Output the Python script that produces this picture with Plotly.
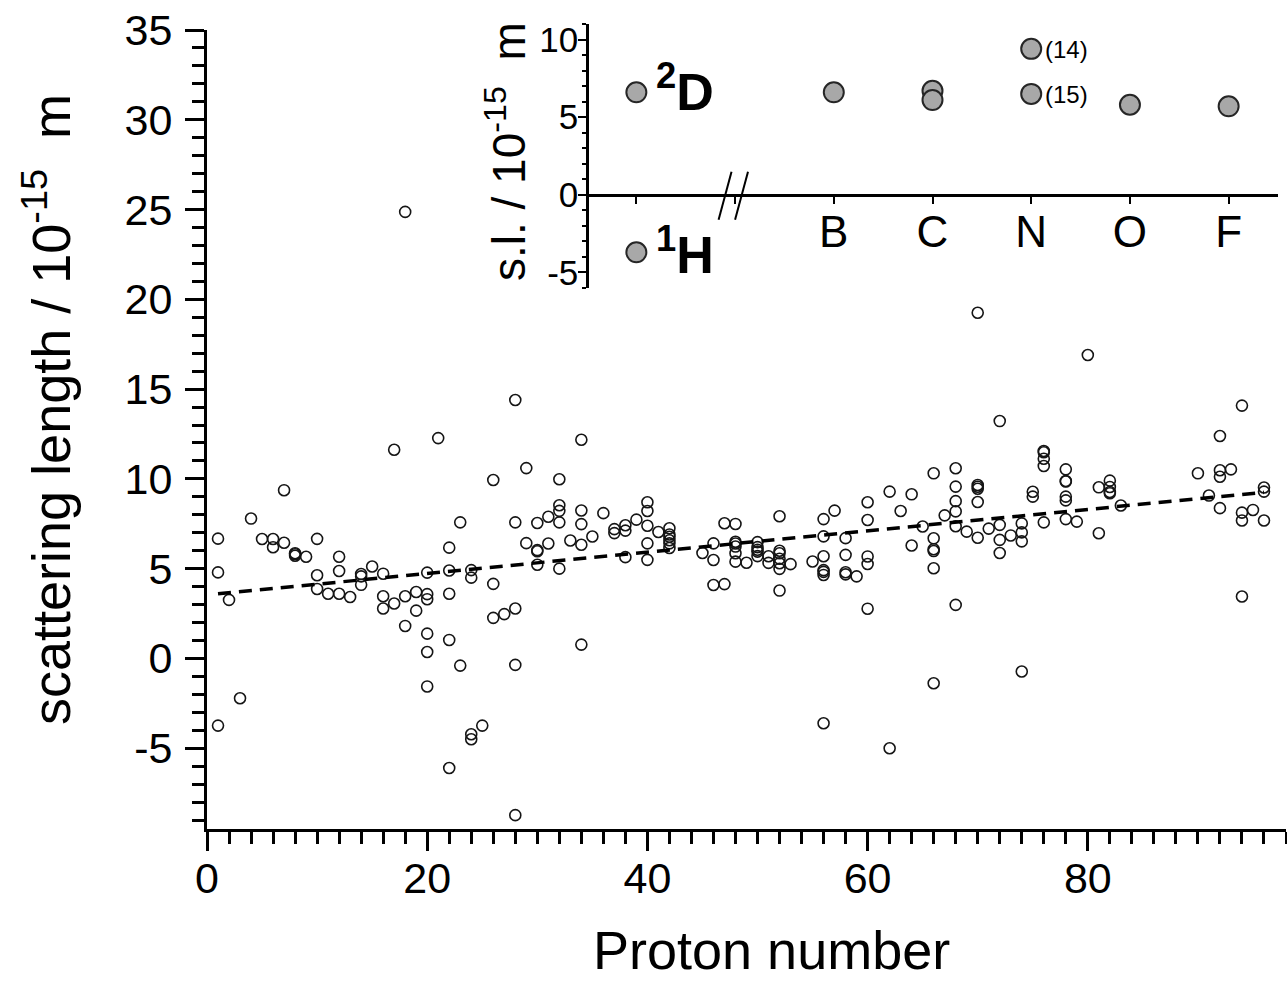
import plotly.graph_objects as go

FONT = "Liberation Sans, Arial, Helvetica, sans-serif"

# ---- main panel: coherent scattering length (fm) of isotopes, grouped by proton number
proton_z = [1, 2, 3, 4, 5, 6, 7, 8, 9, 10,
            11, 12, 13, 14, 15, 16, 17, 18, 19, 20,
            21, 22, 23, 24, 25, 26, 27, 28, 29, 30,
            31, 32, 33, 34, 35, 36, 37, 38, 39, 40,
            41, 42, 45, 46, 47, 48, 49, 50, 51, 52,
            53, 55, 56, 57, 58, 59, 60, 62, 63, 64,
            65, 66, 67, 68, 69, 70, 71, 72, 73, 74,
            75, 76, 78, 79, 80, 81, 82, 83, 90, 91,
            92, 93, 94, 95, 96]

isotope_b = [
    [6.67, 4.79, -3.74], [3.26], [-2.22], [7.79], [6.65],
    [6.65, 6.19], [9.37, 6.44], [5.86, 5.80, 5.72], [5.66], [6.66, 4.63, 3.87],
    [3.60], [5.66, 4.87, 3.60], [3.42], [4.70, 4.57, 4.10], [5.12],
    [4.72, 3.46, 2.78], [11.62, 3.06], [24.87, 3.46, 1.81], [3.70, 2.66],
    [4.78, 3.58, 3.30, 1.38, 0.36, -1.56],
    [12.27], [6.17, 4.90, 3.60, 1.03, -6.10], [7.58, -0.40], [4.92, 4.50, -4.22, -4.50],
    [-3.74], [9.94, 4.15, 2.26], [2.47], [14.39, 7.58, 2.78, -0.36, -8.73],
    [10.60, 6.42], [7.54, 6.03, 5.97, 5.22],
    [7.89, 6.40], [9.98, 8.53, 8.22, 7.58, 5.00], [6.57], [12.18, 8.24, 7.48, 6.33, 0.77],
    [6.79], [8.09], [7.20, 6.98], [7.42, 7.12, 5.64], [7.73], [8.70, 8.21, 7.39, 6.41, 5.49],
    [7.04], [7.25, 6.90, 6.78, 6.58, 6.41, 6.15], [5.87], [6.41, 5.48, 4.09], [7.53, 4.14],
    [7.49, 6.50, 6.40, 6.23, 5.86, 5.39], [5.33], [6.48, 6.20, 6.05, 5.95, 5.70],
    [5.69, 5.32], [7.92, 6.00, 5.86, 5.55, 5.30, 4.99, 3.78],
    [5.25], [5.40], [7.76, 6.80, 5.69, 4.92, 4.82, 4.65, -3.61], [8.23],
    [6.70, 5.77, 4.80, 4.68], [4.57], [8.70, 7.71, 5.68, 5.26, 2.77], [9.29, -5.00],
    [8.21], [9.14, 6.29],
    [7.35], [10.31, 6.69, 6.08, 5.98, 5.02, -1.38], [7.97],
    [10.59, 9.57, 8.76, 8.19, 7.36, 2.98], [7.06], [19.25, 9.66, 9.56, 9.45, 8.71, 6.72],
    [7.23], [13.22, 7.44, 6.60, 5.87], [6.85], [7.52, 7.02, 6.52, -0.73],
    [9.28, 9.01], [11.55, 11.48, 11.12, 10.72, 7.58], [10.53, 9.88, 9.85, 9.01, 8.80, 7.76],
    [7.62], [16.90], [9.53, 6.97], [9.90, 9.55, 9.27, 9.20], [8.52], [10.31], [9.07],
    [12.39, 10.48, 10.12, 8.37], [10.53], [14.08, 8.12, 7.68, 3.45], [8.27],
    [9.52, 9.29, 7.68],
]

# linear trend through the isotope data (end points)
trend_z = [1, 96]
trend_b = [3.60, 9.25]

main_xticks = [0, 20, 40, 60, 80]
main_yticks = [-5, 0, 5, 10, 15, 20, 25, 30, 35]

# ---- inset: light elements
inset_pos = [0, 0, 2, 3, 3, 4, 4, 5, 6]
inset_b = [-3.70, 6.60, 6.60, 6.70, 6.10, 9.40, 6.50, 5.80, 5.70]
inset_labelpos = [2, 3, 4, 5, 6]
inset_labels = ["B", "C", "N", "O", "F"]
inset_plainticks = [0, 1]
inset_yticks = [-5, 0, 5, 10]

# ---- geometry (pixels)
W, H = 1287, 983
ML, MR, MT, MB = 207, 1, 10, 154
PW = W - ML - MR
PH = H - MT - MB


def fx(p):
    return (p - ML) / PW


def fy(p):
    return (H - MB - p) / PH


main_ydom = [0, fy(30)]
inset_xdom = [fx(587), fx(1278)]
inset_ydom = [fy(288), fy(24)]
inset_xrange = [-0.5, 6.5]
inset_yrange = [-6, 11]
zero_pos = inset_ydom[0] + (0 - inset_yrange[0]) / (inset_yrange[1] - inset_yrange[0]) * (
    inset_ydom[1] - inset_ydom[0])

z_pts = [z for z, bs in zip(proton_z, isotope_b) for _ in bs]
b_pts = [b for bs in isotope_b for b in bs]

fig = go.Figure()

fig.add_trace(go.Scatter(
    x=z_pts, y=b_pts, mode="markers", xaxis="x", yaxis="y",
    marker=dict(symbol="circle-open", size=11, color="#151515", line=dict(width=1.6)),
    showlegend=False, hoverinfo="skip"))

fig.add_trace(go.Scatter(
    x=trend_z, y=trend_b, mode="lines", xaxis="x", yaxis="y",
    line=dict(color="black", width=3.5, dash="13px,8px"),
    showlegend=False, hoverinfo="skip"))

fig.add_trace(go.Scatter(
    x=inset_pos, y=inset_b, mode="markers", xaxis="x2", yaxis="y2",
    marker=dict(symbol="circle", size=20, color="#a8a8a8",
                line=dict(color="#262626", width=2)),
    showlegend=False, hoverinfo="skip"))

axis_font = dict(family=FONT, size=43, color="black")
inset_font = dict(family=FONT, size=35, color="black")

fig.update_layout(
    width=W, height=H,
    margin=dict(l=ML, r=MR, t=MT, b=MB, pad=0),
    paper_bgcolor="white", plot_bgcolor="rgba(0,0,0,0)",
    font=dict(family=FONT, color="black"),
    xaxis=dict(
        domain=[0, 1], range=[0, 98], anchor="y",
        tickmode="array", tickvals=main_xticks, ticktext=[str(v) for v in main_xticks],
        ticks="outside", ticklen=19, tickwidth=3, tickcolor="black",
        ticklabelstandoff=-10,
        showline=True, linewidth=3, linecolor="black",
        showgrid=False, zeroline=False, tickfont=axis_font,
        minor=dict(tickmode="linear", tick0=0, dtick=2, ticks="outside",
                   ticklen=12, tickwidth=2.5, tickcolor="black", showgrid=False),
        automargin=False),
    yaxis=dict(
        domain=main_ydom, range=[-9.5, 35], anchor="x",
        tickmode="array", tickvals=main_yticks, ticktext=[str(v) for v in main_yticks],
        ticks="outside", ticklen=19, tickwidth=3, tickcolor="black",
        ticklabelstandoff=4,
        showline=True, linewidth=3, linecolor="black",
        showgrid=False, zeroline=False, tickfont=axis_font,
        minor=dict(tickmode="linear", tick0=0, dtick=1, ticks="outside",
                   ticklen=12, tickwidth=2.5, tickcolor="black", showgrid=False),
        automargin=False),
    xaxis2=dict(
        domain=inset_xdom, range=inset_xrange, anchor="free", position=zero_pos,
        tickmode="array", tickvals=inset_labelpos, ticktext=inset_labels,
        ticks="outside", ticklen=7, tickwidth=2, tickcolor="black",
        ticklabelstandoff=-9,
        showline=True, linewidth=2.5, linecolor="black",
        showgrid=False, zeroline=False,
        tickfont=dict(family=FONT, size=44, color="black"),
        minor=dict(tickmode="array", tickvals=inset_plainticks, ticks="outside",
                   ticklen=7, tickwidth=2, tickcolor="black", showgrid=False),
        automargin=False),
    yaxis2=dict(
        domain=inset_ydom, range=inset_yrange, anchor="free", position=inset_xdom[0],
        tickmode="array", tickvals=inset_yticks, ticktext=[str(v) for v in inset_yticks],
        ticks="outside", ticklen=8, tickwidth=2, tickcolor="black",
        ticklabelstandoff=-7,
        showline=True, linewidth=2.5, linecolor="black",
        showgrid=False, zeroline=False, tickfont=inset_font,
        minor=dict(tickmode="linear", tick0=0, dtick=1, ticks="outside",
                   ticklen=4, tickwidth=1.5, tickcolor="black", showgrid=False),
        automargin=False),
)

# axis break marks on the inset's horizontal axis
for x0, x1 in [(0.833, 0.964), (1.0, 1.131)]:
    fig.add_shape(type="line", xref="x2", yref="y2", x0=x0, y0=-1.61, x1=x1, y1=1.48,
                  line=dict(color="black", width=2))

annotations = [
    dict(text="scattering length / 10<sup>-15</sup>  m", xref="paper", yref="paper",
         x=fx(47), y=fy(410), textangle=-90, showarrow=False,
         xanchor="center", yanchor="middle", font=dict(family=FONT, size=54, color="black")),
    dict(text="Proton number", xref="paper", yref="paper",
         x=fx(771), y=fy(950), showarrow=False, borderpad=0,
         xanchor="center", yanchor="middle", font=dict(family=FONT, size=54, color="black")),
    dict(text="s.l. / 10<sup>-15</sup>  m", xref="paper", yref="paper",
         x=fx(506), y=fy(152), textangle=-90, showarrow=False,
         xanchor="center", yanchor="middle", font=dict(family=FONT, size=46, color="black")),
    dict(text="<b><sup>2</sup>D</b>", xref="x2", yref="y2", x=0.18, y=6.9,
         showarrow=False, xanchor="left", yanchor="middle",
         font=dict(family=FONT, size=52, color="black")),
    dict(text="<b><sup>1</sup>H</b>", xref="x2", yref="y2", x=0.18, y=-3.6,
         showarrow=False, xanchor="left", yanchor="middle",
         font=dict(family=FONT, size=52, color="black")),
    dict(text="(14)", xref="x2", yref="y2", x=4.12, y=9.35,
         showarrow=False, xanchor="left", yanchor="middle",
         font=dict(family=FONT, size=24, color="black")),
    dict(text="(15)", xref="x2", yref="y2", x=4.12, y=6.45,
         showarrow=False, xanchor="left", yanchor="middle",
         font=dict(family=FONT, size=24, color="black")),
]
fig.update_layout(annotations=annotations)

fig.write_html("out.html")
